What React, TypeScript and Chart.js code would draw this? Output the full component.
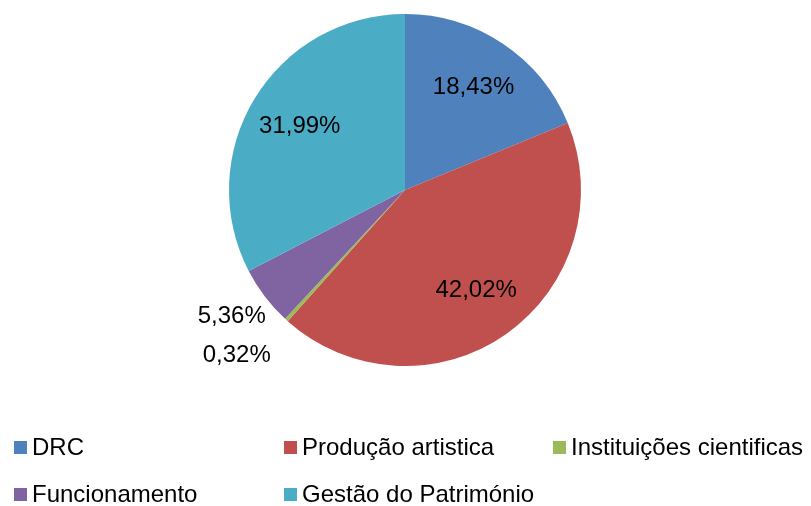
import React, { useEffect, useRef } from "react";
import { Chart, registerables } from "chart.js";

Chart.register(...registerables);

const categories = [
  "DRC",
  "Produção artistica",
  "Instituições cientificas",
  "Funcionamento",
  "Gestão do Património",
];
const values = [18.43, 42.02, 0.32, 5.36, 31.99];
const valueLabels = ["18,43%", "42,02%", "0,32%", "5,36%", "31,99%"];
const colors = ["#4F81BD", "#C0504D", "#9BBB59", "#8064A2", "#4BACC6"];

const FONT = "Liberation Sans, Arial, sans-serif";
const FONT_SIZE = 24;

const labelPlugin = {
  id: "sliceLabels",
  afterDatasetsDraw(chart: any) {
    const ctx = chart.ctx;
    const meta = chart.getDatasetMeta(0);
    ctx.save();
    ctx.font = `${FONT_SIZE}px ${FONT}`;
    ctx.fillStyle = "#000";
    ctx.textAlign = "center";
    ctx.textBaseline = "middle";
    const outside: { i: number; x: number; y: number }[] = [];
    meta.data.forEach((arc: any, i: number) => {
      const { x, y, startAngle, endAngle, outerRadius } = arc.getProps(
        ["x", "y", "startAngle", "endAngle", "outerRadius"],
        true
      );
      const mid = (startAngle + endAngle) / 2;
      const frac = (endAngle - startAngle) / (Math.PI * 2);
      if (frac > 0.08) {
        const r = outerRadius * 0.7;
        ctx.fillText(valueLabels[i], x + Math.cos(mid) * r, y + Math.sin(mid) * r);
      } else {
        const r = outerRadius * 1.2;
        outside.push({ i, x: x + Math.cos(mid) * r, y: y + Math.sin(mid) * r });
      }
    });
    outside.sort((a, b) => a.y - b.y);
    const gap = FONT_SIZE * 1.62;
    for (let k = 1; k < outside.length; k++) {
      const prev = outside[k - 1];
      const cur = outside[k];
      if (cur.y - prev.y < gap) {
        cur.y = prev.y + gap;
        cur.x = prev.x + 5;
      }
    }
    outside.forEach((o) => ctx.fillText(valueLabels[o.i], o.x - 5, o.y - 1));
    ctx.restore();
  },
};

export default function App() {
  const ref = useRef<HTMLCanvasElement>(null);
  useEffect(() => {
    if (!ref.current) return;
    const chart = new Chart(ref.current, {
      type: "pie",
      data: {
        labels: categories,
        datasets: [
          {
            data: values,
            backgroundColor: colors,
            borderWidth: 0,
          },
        ],
      },
      options: {
        responsive: false,
        animation: false,
        layout: { padding: { left: 229, right: 230, top: 14, bottom: 140 } },
        plugins: { legend: { display: false }, tooltip: { enabled: false } },
      },
      plugins: [labelPlugin],
    });
    return () => chart.destroy();
  }, []);

  const legendPos = [
    { left: 14, top: 447 },
    { left: 284, top: 447 },
    { left: 553, top: 447 },
    { left: 14, top: 494 },
    { left: 284, top: 494 },
  ];

  return (
    <div style={{ position: "absolute", left: 0, top: 0, width: 811, height: 506, background: "#fff", overflow: "hidden" }}>
      <canvas ref={ref} width={811} height={506} style={{ position: "absolute", left: 0, top: 0 }} />
      {categories.map((c, i) => (
        <div
          key={c}
          style={{
            position: "absolute",
            left: legendPos[i].left,
            top: legendPos[i].top,
            transform: "translateY(-50%)",
            display: "flex",
            alignItems: "center",
            fontFamily: FONT,
            fontSize: FONT_SIZE,
            color: "#000",
            whiteSpace: "nowrap",
            lineHeight: 1,
          }}
        >
          <span style={{ display: "inline-block", width: 13, height: 13, background: colors[i], marginRight: 5 }} />
          <span>{c}</span>
        </div>
      ))}
    </div>
  );
}
